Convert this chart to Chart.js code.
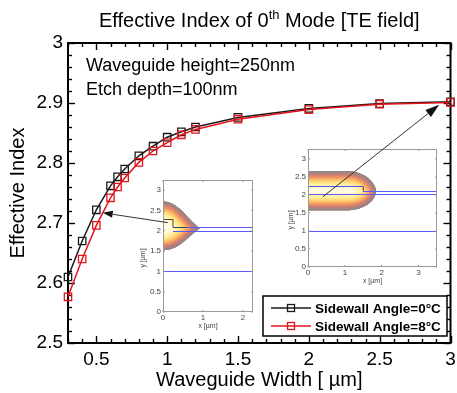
<!DOCTYPE html>
<html><head><meta charset="utf-8">
<script src="https://cdn.jsdelivr.net/npm/chart.js@4.4.0/dist/chart.umd.min.js"></script>
<style>html,body{margin:0;padding:0;background:#fff;}canvas{display:block;}</style>
</head><body>
<canvas id="c" width="457" height="393"></canvas>
<script>
// ---- data ----
const widths    = [0.3, 0.4, 0.5, 0.6, 0.65, 0.7, 0.8, 0.9, 1.0, 1.1, 1.2, 1.5, 2.0, 2.5, 3.0];
const index0deg = [2.610, 2.670, 2.722, 2.762, 2.777, 2.790, 2.812, 2.828, 2.843, 2.852, 2.860, 2.876, 2.891, 2.899, 2.902];
const index8deg = [2.577, 2.640, 2.696, 2.742, 2.760, 2.775, 2.801, 2.820, 2.834, 2.847, 2.856, 2.873, 2.889, 2.898, 2.901];
const seriesLabels = ['Sidewall Angle=0°C', 'Sidewall Angle=8°C'];
const xTickValues = [0.5, 1, 1.5, 2, 2.5, 3];
const xTickLabels = ['0.5', '1', '1.5', '2', '2.5', '3'];
const yTickValues = [2.5, 2.6, 2.7, 2.8, 2.9, 3.0];
const yTickLabels = ['2.5', '2.6', '2.7', '2.8', '2.9', '3'];
const annotations = ['Waveguide height=250nm', 'Etch depth=100nm'];
const titleParts = ['Effective Index of 0', 'th', ' Mode [TE field]'];
const xTitle = 'Waveguide Width [ µm]';
const yTitle = 'Effective Index';
const insetYTicks = [0, 0.5, 1, 1.5, 2, 2.5, 3];
const insetXTicksA = [0, 1, 2];
const insetXTicksB = [0, 1, 2, 3];

const FONT = '"Liberation Sans", Arial, Helvetica, sans-serif';

function line(ctx, x0, y0, x1, y1) { ctx.beginPath(); ctx.moveTo(x0, y0); ctx.lineTo(x1, y1); ctx.stroke(); }

function drawFrame(chart) {
  const {ctx, chartArea: a, scales: {x, y}} = chart;
  ctx.save();
  ctx.strokeStyle = '#000';
  ctx.lineWidth = 1.4;
  for (let k = 0; k <= 27; k++) {
    const v = 0.3 + k * 0.1;
    const major = Math.abs(v * 2 - Math.round(v * 2)) < 1e-6;
    const L = major ? 7 : 4;
    const px = Math.round(x.getPixelForValue(v)) + 0.5;
    line(ctx, px, a.bottom, px, a.bottom - L);
    line(ctx, px, a.top, px, a.top + L);
  }
  for (let k = 0; k <= 25; k++) {
    const v = 2.5 + k * 0.02;
    const L = (k % 5 === 0) ? 7 : 4;
    const py = Math.round(y.getPixelForValue(v)) + 0.5;
    line(ctx, a.left, py, a.left + L, py);
    line(ctx, a.right, py, a.right - L, py);
  }
  ctx.lineWidth = 2;
  ctx.strokeRect(a.left, a.top, a.right - a.left, a.bottom - a.top);
  ctx.restore();
}

function drawInset(ctx, box, cfg) {
  const X = v => box.l + v / cfg.xmax * (box.r - box.l);
  const Y = v => box.b - v / cfg.ymax * (box.b - box.t);
  ctx.save();
  ctx.fillStyle = '#fff';
  ctx.fillRect(box.l, box.t, box.r - box.l, box.b - box.t);
  // mode field
  ctx.save();
  ctx.beginPath(); ctx.rect(box.l, box.t, box.r - box.l, box.b - box.t); ctx.clip();
  ctx.beginPath();
  cfg.modePath(ctx, X, Y);
  ctx.closePath();
  ctx.clip();
  ctx.fillStyle = '#fffbe0'; ctx.fill();
  ctx.lineJoin = 'round';
  ctx.filter = 'blur(1.5px)';
  const bands = [[16, '#fff4a8'], [12, '#ffdd78'], [9, '#fbb462'], [6.5, '#ec8a64'], [4.2, '#d27474'], [2.4, '#a88484'], [1.2, '#8a8a8a']];
  for (const [w, c] of bands) { ctx.lineWidth = 2 * w; ctx.strokeStyle = c; ctx.stroke(); }
  ctx.filter = 'none';
  ctx.lineWidth = 1.6; ctx.strokeStyle = '#888'; ctx.stroke();
  ctx.restore();
  // structure lines
  ctx.lineWidth = 1;
  for (const s of cfg.segments) {
    ctx.strokeStyle = s.c;
    ctx.beginPath();
    s.p.forEach((pt, i) => { const px = X(pt[0]), py = Math.round(Y(pt[1])) + 0.5; i ? ctx.lineTo(px, py) : ctx.moveTo(px, py); });
    ctx.stroke();
  }
  // frame & ticks
  ctx.strokeStyle = '#9a9a9a'; ctx.lineWidth = 1;
  ctx.strokeRect(box.l + 0.5, box.t + 0.5, box.r - box.l - 1, box.b - box.t - 1);
  ctx.fillStyle = '#444';
  ctx.font = '8px ' + FONT;
  ctx.textAlign = 'right'; ctx.textBaseline = 'middle';
  for (const v of insetYTicks) {
    const py = Y(v);
    line(ctx, box.l, py, box.l + 2, py); line(ctx, box.r, py, box.r - 2, py);
    ctx.fillText(String(v), box.l - 2, py);
  }
  ctx.textAlign = 'center'; ctx.textBaseline = 'top';
  for (const v of cfg.xticks) {
    const px = X(v);
    line(ctx, px, box.b, px, box.b - 2); line(ctx, px, box.t, px, box.t + 2);
    ctx.fillText(String(v), px, box.b + 2);
  }
  ctx.font = '7px ' + FONT;
  ctx.fillText('x [µm]', (box.l + box.r) / 2, box.b + 11);
  ctx.save();
  ctx.translate(box.l - cfg.ylabOff, (box.t + box.b) / 2 + 12);
  ctx.rotate(-Math.PI / 2);
  ctx.textBaseline = 'middle';
  ctx.fillText('y [µm]', 0, 0);
  ctx.restore();
  ctx.restore();
  return {X, Y};
}

function arrow(ctx, x0, y0, x1, y1, hl, hw) {
  const ang = Math.atan2(y1 - y0, x1 - x0);
  ctx.save();
  ctx.strokeStyle = '#333'; ctx.fillStyle = '#111'; ctx.lineWidth = 1;
  const bx = x1 - hl * Math.cos(ang), by = y1 - hl * Math.sin(ang);
  line(ctx, x0, y0, bx, by);
  ctx.beginPath();
  ctx.moveTo(x1, y1);
  ctx.lineTo(bx + hw / 2 * Math.sin(ang), by - hw / 2 * Math.cos(ang));
  ctx.lineTo(bx - hw / 2 * Math.sin(ang), by + hw / 2 * Math.cos(ang));
  ctx.closePath(); ctx.fill();
  ctx.restore();
}

const deco = {
  id: 'deco',
  beforeDatasetsDraw(chart) { drawFrame(chart); },
  afterDatasetsDraw(chart) {
    const {ctx, chartArea: a, scales: {x, y}} = chart;
    // title with superscript
    ctx.save();
    ctx.fillStyle = '#000';
    ctx.textBaseline = 'alphabetic'; ctx.textAlign = 'left';
    const big = '20px ' + FONT, small = '13px ' + FONT;
    ctx.font = big; const w0 = ctx.measureText(titleParts[0]).width, w2 = ctx.measureText(titleParts[2]).width;
    ctx.font = small; const w1 = ctx.measureText(titleParts[1]).width;
    let tx = (a.left + a.right) / 2 - (w0 + w1 + w2) / 2;
    ctx.font = big; ctx.fillText(titleParts[0], tx, 27); tx += w0;
    ctx.font = small; ctx.fillText(titleParts[1], tx, 19); tx += w1;
    ctx.font = big; ctx.fillText(titleParts[2], tx, 27);
    // annotations
    ctx.font = '18px ' + FONT;
    ctx.fillText(annotations[0], 86, 71);
    ctx.fillText(annotations[1], 86, 95);
    ctx.restore();

    // insets
    const A = drawInset(ctx, {l: 163, t: 180, r: 253, b: 312}, {
      xmax: 2.25, ymax: 3.25, xticks: insetXTicksA, ylabOff: 20,
      modePath: (c, X, Y) => {
        c.moveTo(X(-0.5), Y(2.72));
        c.lineTo(X(0), Y(2.72));
        c.bezierCurveTo(X(0.4), Y(2.72), X(0.6), Y(2.28), X(0.92), Y(2.06));
        c.bezierCurveTo(X(0.6), Y(1.84), X(0.4), Y(1.52), X(0), Y(1.52));
        c.lineTo(X(-0.5), Y(1.52));
      },
      segments: [
        {c: '#5a5aff', p: [[0, 1.0], [2.25, 1.0]]},
        {c: '#5a5aff', p: [[0.25, 2.0], [2.25, 2.0]]},
        {c: '#5a5aff', p: [[0.25, 2.1], [2.25, 2.1]]},
        {c: '#444', p: [[0, 2.28], [0.25, 2.28], [0.25, 2.1], [0.6, 2.1]]},
      ]
    });
    const B = drawInset(ctx, {l: 308, t: 149, r: 437, b: 267}, {
      xmax: 3.5, ymax: 3.28, xticks: insetXTicksB, ylabOff: 17,
      modePath: (c, X, Y) => {
        c.moveTo(X(-0.5), Y(2.66));
        c.lineTo(X(1.1), Y(2.66));
        c.bezierCurveTo(X(1.55), Y(2.64), X(1.82), Y(2.35), X(1.85), Y(2.1));
        c.bezierCurveTo(X(1.82), Y(1.85), X(1.55), Y(1.6), X(1.1), Y(1.58));
        c.lineTo(X(-0.5), Y(1.58));
      },
      segments: [
        {c: '#5a5aff', p: [[0, 1.0], [3.5, 1.0]]},
        {c: '#5050ff', p: [[0, 2.25], [1.5, 2.25]]},
        {c: '#5a5aff', p: [[1.5, 2.12], [3.5, 2.12]]},
        {c: '#5a5aff', p: [[0, 2.02], [3.5, 2.02]]},
        {c: '#902050', p: [[1.5, 2.25], [1.5, 2.12]]},
      ]
    });

    // arrows from inset mode to the curve points
    arrow(ctx, A.X(0.12), A.Y(2.2), x.getPixelForValue(0.545), y.getPixelForValue(2.717), 10, 7);
    arrow(ctx, B.X(0.4), B.Y(1.95), x.getPixelForValue(2.92), y.getPixelForValue(2.897), 14, 9);

    // legend
    ctx.save();
    const L = {l: 263, t: 296, r: 447, b: 336};
    ctx.fillStyle = '#fff'; ctx.fillRect(L.l, L.t, L.r - L.l, L.b - L.t);
    ctx.strokeStyle = '#000'; ctx.lineWidth = 1.5;
    ctx.strokeRect(L.l, L.t, L.r - L.l, L.b - L.t);
    ctx.font = 'bold 13.5px ' + FONT; ctx.textBaseline = 'middle'; ctx.textAlign = 'left';
    chart.data.datasets.forEach((ds, i) => {
      const ry = 308 + i * 18;
      ctx.strokeStyle = ds.borderColor; ctx.lineWidth = 1.5;
      line(ctx, 271, ry, 311, ry);
      ctx.lineWidth = 1.3;
      ctx.strokeRect(287.5, ry - 3.5, 7, 7);
      ctx.fillStyle = '#000';
      ctx.fillText(ds.label, 315, ry + 1);
    });
    ctx.restore();
  }
};

const mk = arr => widths.map((w, i) => ({x: w, y: arr[i]}));
const common = {pointStyle: 'rect', pointRadius: 5.2, pointBorderWidth: 1.3, pointBackgroundColor: 'rgba(0,0,0,0)', borderWidth: 1.5, tension: 0, clip: false, fill: false};

new Chart(document.getElementById('c'), {
  type: 'line',
  data: {
    datasets: [
      Object.assign({label: seriesLabels[0], data: mk(index0deg), borderColor: '#1a1a1a', pointBorderColor: '#1a1a1a', order: 1}, common),
      Object.assign({label: seriesLabels[1], data: mk(index8deg), borderColor: '#e3141c', pointBorderColor: '#e3141c', order: 0}, common)
    ]
  },
  options: {
    responsive: false, animation: false, devicePixelRatio: 1,
    layout: {padding: {top: 43, right: 3, left: 0, bottom: 0}},
    plugins: {legend: {display: false}, tooltip: {enabled: false}, title: {display: false}},
    events: [],
    scales: {
      x: {
        type: 'linear', min: 0.3, max: 3,
        grid: {display: false, drawTicks: false}, border: {display: false},
        afterBuildTicks: s => { s.ticks = xTickValues.map(v => ({value: v})); },
        ticks: {autoSkip: false, maxRotation: 0, minRotation: 0, padding: 5, color: '#000',
          font: {family: FONT, size: 19}, callback: (v, i) => xTickLabels[i]},
        title: {display: true, text: xTitle, color: '#000', font: {family: FONT, size: 20}, padding: {top: 0, bottom: 1}},
        afterFit: s => { s.height = 50; s.paddingLeft = 0; s.paddingRight = 0; }
      },
      y: {
        type: 'linear', min: 2.5, max: 3,
        grid: {display: false, drawTicks: false}, border: {display: false},
        afterBuildTicks: s => { s.ticks = yTickValues.map(v => ({value: v})); },
        ticks: {autoSkip: false, padding: 5, color: '#000',
          font: {family: FONT, size: 19}, callback: (v, i) => yTickLabels[i]},
        title: {display: true, text: yTitle, color: '#000', font: {family: FONT, size: 20}, padding: {top: 6, bottom: 0}},
        afterFit: s => { s.width = 68; s.paddingTop = 0; s.paddingBottom = 0; }
      }
    }
  },
  plugins: [deco]
});
</script>
</body></html>
